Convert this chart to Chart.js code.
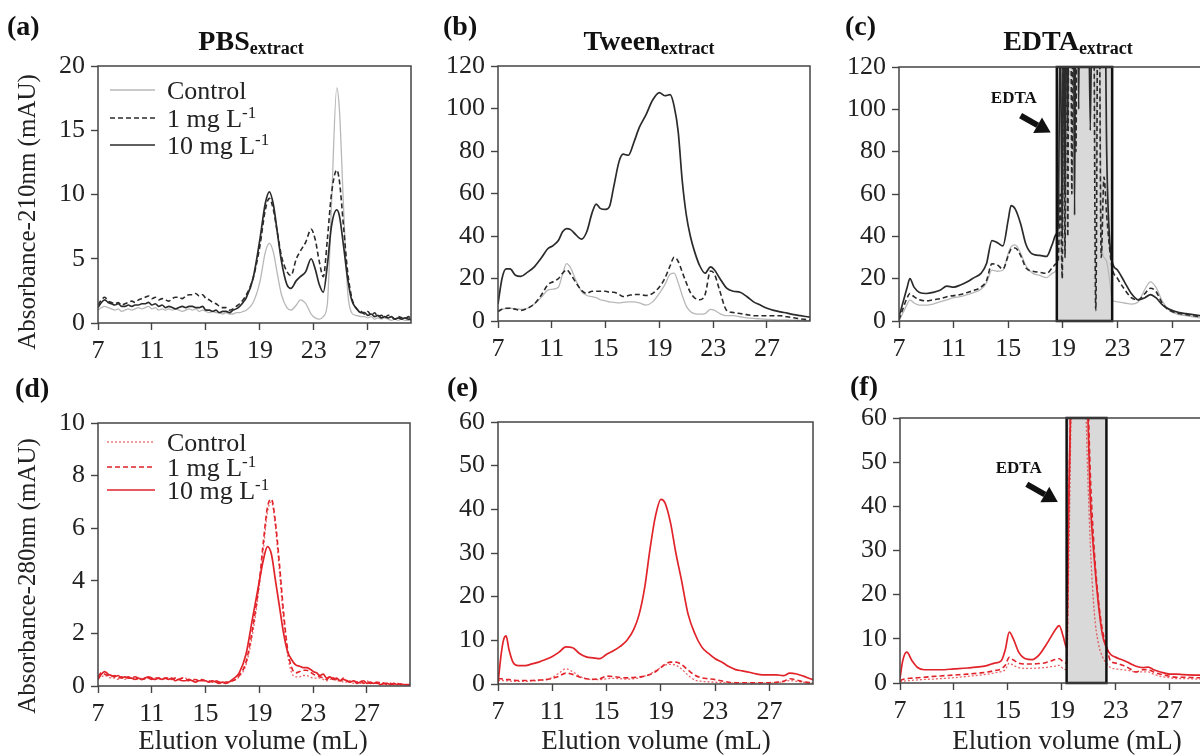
<!DOCTYPE html>
<html>
<head>
<meta charset="utf-8">
<script src="https://cdn.jsdelivr.net/npm/chart.js@4.4.1/dist/chart.umd.min.js"></script>
<style>
  html, body { margin: 0; padding: 0; background: #fff; overflow: hidden; }
  #wrap { position: relative; width: 1200px; height: 756px; overflow: hidden; }
  canvas { position: absolute; }
</style>
</head>
<body>
<div id="wrap">
  <canvas id="pa" width="420" height="370" style="left:0;top:0"></canvas>
  <canvas id="pb" width="420" height="370" style="left:400px;top:0"></canvas>
  <canvas id="pc" width="420" height="370" style="left:800px;top:0"></canvas>
  <canvas id="pd" width="420" height="386" style="left:0;top:370px"></canvas>
  <canvas id="pe" width="420" height="386" style="left:400px;top:370px"></canvas>
  <canvas id="pf" width="420" height="386" style="left:800px;top:370px"></canvas>
</div>
<script>
// tick labels
const xTicks = [7, 11, 15, 19, 23, 27];
const yTicks210a = [0, 5, 10, 15, 20];
const yTicks210 = [0, 20, 40, 60, 80, 100, 120];
const yTicks280d = [0, 2, 4, 6, 8, 10];
const yTicks280 = [0, 10, 20, 30, 40, 50, 60];

// (a) PBS extract, 210 nm
const aVol = [7, 7.25, 7.5, 7.75, 8, 8.25, 8.5, 8.75, 9, 9.25, 9.5, 9.75, 10, 10.25, 10.5, 10.75, 11, 11.25, 11.5, 11.75,
  12, 12.25, 12.5, 12.75, 13, 13.25, 13.5, 13.75, 14, 14.25, 14.5, 14.75, 15, 15.25, 15.5, 15.75, 16, 16.25, 16.5, 16.75,
  17, 17.25, 17.5, 17.75, 18,
  18.5, 19, 19.4, 19.7, 20, 20.3, 20.6, 21, 21.3, 21.7, 22, 22.4, 22.8, 23.1, 23.4, 23.7, 24, 24.3, 24.7, 24.9, 25.2, 25.5,
  25.8, 26.1, 26.5,
  26.75, 27, 27.25, 27.5, 27.75, 28, 28.25, 28.5, 28.75, 29, 29.25, 29.5, 29.75, 30, 30.2];
const aControl = [1.0, 1.2, 1.3, 1.2, 1.1, 1.0, 1.1, 0.9, 1.0, 1.1, 1.0, 1.1, 1.2, 1.1, 1.2, 1.3, 1.1, 1.2, 1.0, 1.1,
  1.0, 1.1, 1.0, 1.1, 1.0, 0.9, 1.0, 1.1, 1.0, 1.1, 0.9, 1.0, 0.9, 0.8, 0.9, 0.8, 0.8, 0.7, 0.8, 0.7,
  0.7, 0.8, 0.8, 0.9, 1.0,
  1.6, 3.2, 5.5, 6.2, 5.5, 3.8, 2.2, 1.2, 1.0, 1.4, 1.8, 1.5, 0.7, 0.4, 0.3, 0.5, 1.5, 9, 18.3, 16.5, 9, 2.5,
  0.8, 0.6, 0.5,
  0.5, 0.4, 0.5, 0.3, 0.4, 0.3, 0.4, 0.3, 0.2, 0.3, 0.2, 0.3, 0.2, 0.2, 0.2];
const a1mg = [1.4, 1.8, 2.0, 1.7, 1.6, 1.5, 1.6, 1.4, 1.5, 1.6, 1.7, 1.6, 1.8, 1.9, 2.0, 2.1, 1.9, 2.0, 1.8, 1.9,
  1.8, 1.7, 1.9, 2.0, 2.0, 1.9, 2.1, 2.2, 2.2, 2.3, 2.1, 2.2, 1.9, 1.8, 1.6, 1.5, 1.3, 1.2, 1.2, 1.0,
  1.1, 1.3, 1.5, 1.8, 2.2,
  3.5, 6.0, 8.8, 9.7, 8.8, 7.0, 5.2, 4.0, 3.7, 5.0, 5.6, 6.3, 7.3, 6.5, 4.8, 3.6, 6.5, 10, 11.9, 11, 7.5, 4,
  2, 1.2, 0.9,
  0.7, 0.9, 0.6, 0.8, 0.5, 0.6, 0.4, 0.6, 0.5, 0.3, 0.5, 0.4, 0.3, 0.5, 0.3];
const a10mg = [1.2, 1.6, 1.8, 1.6, 1.5, 1.4, 1.5, 1.3, 1.3, 1.4, 1.3, 1.4, 1.4, 1.5, 1.5, 1.6, 1.4, 1.5, 1.3, 1.4,
  1.2, 1.3, 1.2, 1.1, 1.2, 1.3, 1.2, 1.3, 1.3, 1.2, 1.2, 1.3, 1.0, 1.0, 0.9, 1.0, 0.8, 0.9, 0.9, 0.8,
  1.0, 1.1, 1.3, 1.6, 2.0,
  3.5, 6.5, 9.3, 10.2, 9.2, 7.0, 4.8, 3.0, 2.7, 3.3, 3.6, 4.0, 5.0, 4.2, 3.0, 2.4, 4.5, 7.5, 8.8, 8.3, 6.0, 3.5,
  1.8, 1.2, 0.8,
  0.8, 0.6, 0.7, 0.5, 0.6, 0.4, 0.5, 0.4, 0.5, 0.3, 0.4, 0.3, 0.4, 0.3, 0.3];

// (b) Tween extract, 210 nm
const bVol = [7, 7.3, 7.6, 7.9, 8.3, 8.7, 9.2, 9.7, 10.2, 10.7, 11.1, 11.5, 11.8, 12.1, 12.4, 12.8, 13.2, 13.6, 14, 14.3, 14.6,
  15, 15.3, 15.6, 16, 16.3, 16.7, 17.1, 17.5, 18, 18.5, 19, 19.4, 19.8, 20.1, 20.4, 20.7, 21, 21.3, 21.6, 22, 22.4, 22.8, 23.1,
  23.5, 24, 24.5, 25, 25.5, 26, 26.5, 27, 27.5, 28, 28.5, 29, 29.5, 30, 30.2];
const bControl = [5, 5.5, 5.8, 6, 5.8, 5.5, 6, 8, 11, 14.5, 15, 16, 22, 27, 25, 19, 14, 12, 11.5, 11, 10,
  9.5, 9, 8.8, 8.5, 8.8, 9, 9, 8.5, 7.5, 9, 13, 17, 22, 22.5, 18, 12, 7, 4.5, 3.5, 3.2, 3.5, 5.5, 5,
  3.5, 2.5, 2.5, 2, 1.5, 1.2, 1, 0.8, 0.6, 0.5, 0.5, 0.4, 0.3, 0.2, 0.2];
const b1mg = [4.5, 5.5, 6, 6, 5.5, 5, 6, 8, 12, 17, 18.5, 20, 22.5, 24, 22, 18, 14.5, 13, 14, 14, 14,
  14, 13.5, 13.5, 12.5, 11.5, 12, 12.5, 12.5, 12, 13, 16, 20, 26, 30, 28, 23, 18, 13.5, 11, 10, 12.5, 23.5, 22,
  14, 5, 4, 3.5, 3, 2.5, 2.5, 2.5, 2.5, 2.5, 2, 1.5, 1, 0.6, 0.5];
const b10mg = [8, 20, 24.5, 24.5, 21.5, 21, 23, 25.5, 29.5, 34, 35.5, 38, 42, 43.5, 43, 40.5, 38.5, 42, 51, 55, 53,
  52.5, 54, 63, 75, 78.5, 78, 84, 91, 97, 104, 107.5, 106, 106.5, 101, 89, 66, 50, 40, 33, 26, 22.5, 25.5, 24,
  20, 15.5, 14, 13.5, 11.5, 9, 7.5, 6, 5, 4.3, 3.7, 3, 2.5, 2, 1.8];

// (c) EDTA extract, 210 nm (values inside the EDTA band run off scale)
const cVol = [7, 7.3, 7.6, 7.8, 8.1, 8.5, 9, 9.5, 10, 10.5, 11, 11.5, 12, 12.5, 13, 13.4, 13.8, 14.2, 14.6, 15, 15.2, 15.5, 15.9,
  16.3, 16.8, 17.3, 17.8, 18.2, 18.5,
  18.65, 18.8, 18.95, 19.05, 19.15, 19.25, 19.35, 19.45, 19.55, 19.65, 19.75, 19.85, 19.95, 20.05, 20.15, 20.25, 20.4,
  20.6, 20.8, 21.0, 21.2, 21.4, 21.6, 21.8, 22.0, 22.2, 22.4,
  22.6, 23, 23.5, 24, 24.5, 25, 25.4, 25.8, 26.3, 26.8, 27.5, 28, 28.5, 29, 29.5, 30, 30.2];
const cControl = [0, 4, 8, 10, 8.5, 7.5, 7.5, 8, 9, 10, 11, 11.5, 12.5, 13.5, 15, 18, 24, 23.5, 24, 32, 35, 36, 32,
  26, 22.5, 21.5, 20.5, 22.5, 24,
  30, 64, 20, 120, 40, 200, 70, 200, 150, 200, 60, 200, 200, 120, 200, 200, 200,
  200, 120, 200, 200, 60, 200, 40, 30, 28, 20,
  10, 9, 8.5, 8, 9, 15, 18.5, 16, 9, 5, 3, 2.5, 2, 1.5, 1, 0.8, 0.8];
const c1mg = [0.5, 6, 11, 13, 11.5, 10, 9.5, 10, 10.5, 11.5, 12, 12.5, 13.5, 14.5, 16, 19, 27, 26.5, 24.5, 31, 34, 34.5, 31,
  25, 23.5, 23, 22.5, 25, 27,
  28, 60, 20, 200, 30, 200, 40, 200, 200, 60, 200, 200, 80, 200, 200, 120, 200,
  200, 200, 200, 200, 5, 200, 30, 68, 50, 35,
  25, 20, 15, 11, 10, 13, 15.5, 14, 8, 5, 3.5, 3, 2.5, 2, 1.5, 1, 1];
const c10mg = [2, 9, 16, 20, 16, 13.5, 13, 13.5, 14.5, 16.5, 16, 17, 18.5, 20.5, 22.5, 27, 38, 37, 35.5, 48, 54.5, 53, 46,
  36, 31.5, 31, 30.5, 36, 41,
  45, 140, 40, 200, 60, 200, 90, 200, 200, 120, 200, 50, 200, 200, 100, 200, 200,
  200, 200, 90, 200, 200, 200, 150, 200, 80, 40,
  28, 24, 18.5, 13, 10, 11, 12.5, 11, 7.5, 5.5, 4, 3.5, 3, 2.5, 2, 1.5, 1.4];

// (d) PBS extract, 280 nm
const dVol = [7, 7.25, 7.5, 7.75, 8, 8.25, 8.5, 8.75, 9, 9.25, 9.5, 9.75, 10, 10.25, 10.5, 10.75, 11, 11.25, 11.5, 11.75,
  12, 12.25, 12.5, 12.75, 13, 13.25, 13.5, 13.75, 14, 14.25, 14.5, 14.75, 15, 15.25, 15.5, 15.75, 16, 16.25, 16.5, 16.75,
  17, 17.25, 17.5,
  18, 18.5, 19, 19.3, 19.6, 19.9, 20.2, 20.5, 20.8, 21.1, 21.4, 21.7,
  22, 22.25, 22.5, 22.75, 23, 23.25, 23.5, 23.75, 24, 24.25, 24.5, 24.75, 25, 25.25, 25.5, 25.75, 26, 26.25, 26.5, 26.75,
  27, 27.25, 27.5, 27.75, 28, 28.25, 28.5, 28.75, 29, 29.25, 29.5, 29.75, 30, 30.2];
const dControl = [0.3, 0.35, 0.4, 0.35, 0.3, 0.3, 0.25, 0.3, 0.25, 0.3, 0.3, 0.25, 0.25, 0.3, 0.25, 0.3, 0.25, 0.3, 0.3, 0.25,
  0.3, 0.25, 0.3, 0.3, 0.25, 0.3, 0.3, 0.25, 0.2, 0.25, 0.2, 0.25, 0.2, 0.15, 0.2, 0.2, 0.15, 0.15, 0.1, 0.15,
  0.2, 0.25, 0.35,
  0.8, 2.0, 3.8, 5.2, 6.6, 7.0, 6.0, 4.3, 2.5, 1.2, 0.5, 0.35,
  0.35, 0.4, 0.4, 0.35, 0.3, 0.3, 0.3, 0.25, 0.2, 0.25, 0.25, 0.2, 0.2, 0.15, 0.15, 0.2, 0.1, 0.15, 0.1, 0.15,
  0.2, 0.1, 0.1, 0.15, 0.1, 0.05, 0.1, 0.05, 0.1, 0.05, 0.05, 0.05, 0.05, 0.05];
const d1mg = [0.35, 0.5, 0.45, 0.4, 0.35, 0.4, 0.3, 0.35, 0.3, 0.35, 0.3, 0.35, 0.3, 0.25, 0.3, 0.3, 0.25, 0.3, 0.3, 0.25,
  0.3, 0.3, 0.25, 0.3, 0.25, 0.3, 0.25, 0.2, 0.25, 0.25, 0.2, 0.25, 0.2, 0.2, 0.15, 0.2, 0.15, 0.1, 0.15, 0.15,
  0.2, 0.25, 0.4,
  0.9, 2.2, 4.0, 5.5, 6.8, 7.1, 6.2, 4.6, 2.8, 1.4, 0.7, 0.5,
  0.55, 0.6, 0.6, 0.55, 0.45, 0.4, 0.35, 0.3, 0.25, 0.35, 0.3, 0.25, 0.2, 0.3, 0.2, 0.15, 0.2, 0.15, 0.2, 0.1,
  0.15, 0.1, 0.15, 0.1, 0.15, 0.1, 0.05, 0.1, 0.05, 0.1, 0.05, 0.05, 0.05, 0.05];
const d10mg = [0.25, 0.45, 0.55, 0.45, 0.4, 0.35, 0.4, 0.3, 0.35, 0.3, 0.3, 0.25, 0.3, 0.25, 0.3, 0.35, 0.3, 0.25, 0.3, 0.25,
  0.3, 0.25, 0.3, 0.2, 0.25, 0.2, 0.2, 0.25, 0.2, 0.15, 0.2, 0.2, 0.2, 0.15, 0.2, 0.15, 0.1, 0.15, 0.1, 0.15,
  0.25, 0.35, 0.5,
  1.2, 2.6, 4.0, 4.8, 5.3, 5.0, 4.0, 3.0, 2.0, 1.3, 1.0, 0.8,
  0.75, 0.7, 0.7, 0.65, 0.55, 0.5, 0.4, 0.45, 0.3, 0.35, 0.25, 0.3, 0.2, 0.25, 0.2, 0.15, 0.2, 0.1, 0.15, 0.2,
  0.1, 0.15, 0.1, 0.15, 0.05, 0.1, 0.1, 0.05, 0.1, 0.05, 0.08, 0.05, 0.05, 0.05];

// (e) Tween extract, 280 nm
const eVol = [7, 7.2, 7.4, 7.6, 7.8, 8.1, 8.5, 9, 9.5, 10, 10.5, 11, 11.5, 12, 12.5, 13, 13.5, 14, 14.5, 15, 15.5, 16, 16.5, 17,
  17.4, 17.8, 18.2, 18.6, 19, 19.3, 19.7, 20.1, 20.5, 21, 21.5, 22, 22.5, 23, 23.5, 24, 24.5, 25, 25.5, 26, 26.5, 27, 27.5,
  28, 28.5, 29, 29.5, 30, 30.2];
const eControl = [0.8, 0.8, 0.8, 0.7, 0.7, 0.6, 0.6, 0.6, 0.7, 0.8, 1, 1.5, 2.5, 3.5, 2.8, 1.8, 1.2, 1, 1, 1.2, 1.3, 1.2, 1.1, 1.2,
  1.4, 1.8, 2.3, 3, 3.8, 4.3, 4.5, 4.3, 3.5, 2, 0.9, 0.6, 0.5, 0.4, 0.3, 0.3, 0.2, 0.2, 0.2, 0.2, 0.2, 0.2, 0.3,
  0.5, 0.8, 0.6, 0.4, 0.2, 0.2];
const e1mg = [1.2, 1.2, 1.1, 1, 1, 0.9, 0.8, 0.8, 0.8, 0.9, 1, 1.3, 1.8, 2.5, 2.2, 1.6, 1.2, 1.1, 1.2, 1.8, 1.7, 1.5, 1.4, 1.5,
  1.6, 1.8, 2.2, 2.8, 3.8, 4.5, 5, 5, 4.5, 3.2, 2, 1.4, 1.2, 1, 0.7, 0.4, 0.3, 0.3, 0.3, 0.3, 0.3, 0.3, 0.4,
  0.6, 1.2, 0.9, 0.5, 0.3, 0.2];
const e10mg = [0, 6, 10, 11, 8, 5, 4.2, 4.2, 4.6, 5, 5.6, 6.3, 7.3, 8.5, 8.3, 7, 6.2, 6, 5.8, 6.8, 7.6, 8.6, 10, 12.5,
  16, 22, 31, 38.5, 42.3, 41.5, 37, 30, 24, 16, 11.5, 8.5, 7, 5.8, 5, 4, 3.3, 3, 2.7, 2.3, 2.1, 2.1, 2.1,
  1.9, 2.5, 2.3, 1.8, 1.2, 1.0];

// (f) EDTA extract, 280 nm
const fVol = [7, 7.2, 7.5, 7.9, 8.3, 8.8, 9.5, 10, 11, 12, 13, 13.5, 14, 14.5, 14.8, 15.1, 15.4, 15.8, 16.3, 16.8, 17.3, 17.8,
  18.2, 18.5, 18.8, 19.1, 19.35, 19.5, 19.7, 20, 20.4, 20.8, 21.1, 21.4, 21.7, 22, 22.3, 22.6, 23, 23.5, 24, 24.5, 25,
  25.4, 25.8, 26.3, 27, 27.5, 28, 29, 30, 30.2];
const fControl = [0.3, 0.4, 0.5, 0.6, 0.7, 0.8, 0.9, 1, 1.2, 1.5, 1.8, 2, 2.3, 2.6, 3, 4.5, 4, 3.5, 3.3, 3.3, 3.4, 3.5,
  3.7, 3.8, 4, 3.2, 3, 25, 65, 100, 120, 60, 32, 16, 9, 6, 4.5, 3.5, 3.2, 3, 2.8, 2.5, 2.5,
  2.5, 2, 1.5, 1.2, 1, 1, 0.9, 0.8, 0.8];
const f1mg = [0.5, 0.8, 1, 1.1, 1.2, 1.3, 1.5, 1.6, 1.8, 2, 2.3, 2.5, 2.8, 3.2, 4, 5.8, 5.2, 4.5, 4.3, 4.3, 4.4, 4.6,
  5, 5.3, 5.5, 4.8, 4.5, 38, 70, 100, 120, 80, 48, 30, 19, 12, 8.5, 5, 4.5, 4, 3.3, 2.5, 3,
  3, 2.5, 2, 1.5, 1.3, 1.3, 1.2, 1.2, 1.2];
const f10mg = [1, 5, 7, 5, 3.5, 3, 3, 3, 3.2, 3.4, 3.7, 4, 4.5, 5, 7.5, 11.5, 10, 7, 5.5, 5.3, 6.3, 8.5,
  10.5, 12, 13, 10.5, 8, 40, 70, 100, 120, 75, 42, 28, 18, 11, 8, 6.5, 5.8, 5.2, 4.5, 3.8, 3.5,
  3.6, 3, 2.5, 2, 2, 1.9, 1.8, 1.8, 1.8];

const FONT = '"Liberation Serif", "Times New Roman", serif';

// line styles
const grayCtl = { borderColor: '#b8b8b8', borderWidth: 1.3 };
const darkDash = { borderColor: '#2b2b2b', borderWidth: 1.6, borderDash: [5, 3] };
const darkSolid = { borderColor: '#2b2b2b', borderWidth: 1.7 };
const redCtl = { borderColor: 'rgba(225,35,40,0.7)', borderWidth: 1.3, borderDash: [2, 2] };
const redDash = { borderColor: '#e1232a', borderWidth: 1.6, borderDash: [5, 3] };
const redSolid = { borderColor: '#e1232a', borderWidth: 1.7 };

const labelControl = [['Control']];
const label1 = [['1 mg L'], ['-1', 'sup']];
const label10 = [['10 mg L'], ['-1', 'sup']];

function pts(xs, ys) {
  return xs.map((x, i) => ({ x: x, y: ys[i] }));
}

function drawParts(ctx, parts, x, y, size, bold) {
  let cx = x;
  parts.forEach(([t, kind]) => {
    const s = kind ? Math.round(size * 0.66) : size;
    ctx.font = (bold ? 'bold ' : '') + s + 'px ' + FONT;
    const dy = kind === 'sup' ? -size * 0.36 : kind === 'sub' ? size * 0.14 : 0;
    ctx.fillText(t, cx, y + dy);
    cx += ctx.measureText(t).width;
  });
  return cx - x;
}

function partsWidth(ctx, parts, size, bold) {
  let w = 0;
  parts.forEach(([t, kind]) => {
    const s = kind ? Math.round(size * 0.66) : size;
    ctx.font = (bold ? 'bold ' : '') + s + 'px ' + FONT;
    w += ctx.measureText(t).width;
  });
  return w;
}

function arrow(ctx, x1, y1, x2, y2) {
  const ang = Math.atan2(y2 - y1, x2 - x1);
  const head = 15, hw = 9;
  const bx = x2 - head * Math.cos(ang), by = y2 - head * Math.sin(ang);
  ctx.lineWidth = 6;
  ctx.beginPath(); ctx.moveTo(x1, y1); ctx.lineTo(bx, by); ctx.stroke();
  ctx.beginPath();
  ctx.moveTo(x2, y2);
  ctx.lineTo(bx + hw * Math.sin(ang), by - hw * Math.cos(ang));
  ctx.lineTo(bx - hw * Math.sin(ang), by + hw * Math.cos(ang));
  ctx.closePath(); ctx.fill();
}

// frame, labels, legend and the EDTA band
function decorate(cfg) {
  return {
    id: 'decor',
    beforeDatasetsDraw(chart) {
      if (!cfg.edta) return;
      const { ctx, chartArea: a, scales: { x } } = chart;
      const l = x.getPixelForValue(cfg.edta.from), r = x.getPixelForValue(cfg.edta.to);
      ctx.save();
      ctx.fillStyle = '#d9d9d9';
      ctx.fillRect(l, a.top, r - l, a.bottom - a.top);
      ctx.restore();
    },
    afterDatasetsDraw(chart) {
      const { ctx, chartArea: a, scales: { x, y } } = chart;
      ctx.save();
      ctx.fillStyle = '#111';
      ctx.strokeStyle = '#111';
      if (cfg.edta) {
        const l = x.getPixelForValue(cfg.edta.from), r = x.getPixelForValue(cfg.edta.to);
        ctx.lineWidth = 2.5;
        ctx.strokeRect(l, a.top, r - l, a.bottom - a.top);
        const ar = cfg.edta.arrow;
        arrow(ctx, x.getPixelForValue(ar[0]), y.getPixelForValue(ar[1]), x.getPixelForValue(ar[2]), y.getPixelForValue(ar[3]));
        ctx.font = 'bold 17px ' + FONT;
        ctx.textAlign = 'center';
        ctx.textBaseline = 'middle';
        ctx.fillText('EDTA', x.getPixelForValue(cfg.edta.text[0]), y.getPixelForValue(cfg.edta.text[1]));
      }
      ctx.strokeStyle = '#444';
      ctx.lineWidth = 1.5;
      ctx.strokeRect(a.left, a.top, a.right - a.left, a.bottom - a.top);

      if (cfg.legend) {
        const lg = cfg.legend;
        lg.rows.forEach(row => {
          ctx.save();
          ctx.strokeStyle = row.style.borderColor;
          ctx.lineWidth = row.style.borderWidth;
          ctx.setLineDash(row.style.borderDash || []);
          ctx.beginPath(); ctx.moveTo(lg.x1, row.y); ctx.lineTo(lg.x2, row.y); ctx.stroke();
          ctx.restore();
          ctx.fillStyle = '#222';
          ctx.textAlign = 'left';
          ctx.textBaseline = 'alphabetic';
          drawParts(ctx, row.label, lg.tx, row.y + 9, 26, false);
        });
      }

      ctx.fillStyle = '#111';
      ctx.textBaseline = 'alphabetic';
      ctx.textAlign = 'left';
      ctx.font = 'bold 28px ' + FONT;
      ctx.fillText(cfg.letter[0], cfg.letter[1], cfg.letter[2]);

      if (cfg.title) {
        const w = partsWidth(ctx, cfg.title.parts, 28, true);
        drawParts(ctx, cfg.title.parts, cfg.title.cx - w / 2, cfg.title.y, 28, true);
      }
      ctx.fillStyle = '#222';
      if (cfg.ytitle) {
        ctx.save();
        ctx.translate(cfg.ytitle.x, cfg.ytitle.y);
        ctx.rotate(-Math.PI / 2);
        ctx.font = '25px ' + FONT;
        ctx.textAlign = 'center';
        ctx.textBaseline = 'middle';
        ctx.fillText(cfg.ytitle.text, 0, 0);
        ctx.restore();
      }
      if (cfg.xtitle) {
        ctx.font = '27px ' + FONT;
        ctx.textAlign = 'center';
        ctx.textBaseline = 'middle';
        ctx.fillText('Elution volume (mL)', cfg.xtitle[0], cfg.xtitle[1]);
      }
      ctx.restore();
    }
  };
}

function panel(id, o) {
  const tickGrid = { display: true, drawOnChartArea: false, drawTicks: true, tickLength: 7, tickColor: '#444', tickWidth: 1.4, color: '#444' };
  const tickFont = { family: FONT, size: 26 };
  return new Chart(document.getElementById(id), {
    type: 'line',
    data: {
      datasets: o.series.map(s => Object.assign({ data: pts(s[0], s[1]), pointRadius: 0, fill: false }, s[2]))
    },
    options: {
      responsive: false,
      animation: false,
      events: [],
      layout: { padding: { left: 0, top: o.top, right: o.right, bottom: 0 } },
      elements: { line: { cubicInterpolationMode: 'monotone' } },
      plugins: { legend: { display: false }, tooltip: { enabled: false } },
      scales: {
        x: {
          type: 'linear', min: 7, max: 30.2,
          afterBuildTicks: s => { s.ticks = xTicks.map(v => ({ value: v })); },
          afterFit: s => { s.height = o.xh; },
          grid: tickGrid,
          border: { display: false },
          ticks: { font: tickFont, color: '#222', padding: 6, maxRotation: 0, autoSkip: false }
        },
        y: {
          type: 'linear', min: 0, max: o.yTicks[o.yTicks.length - 1],
          afterBuildTicks: s => { s.ticks = o.yTicks.map(v => ({ value: v })); },
          afterFit: s => { s.width = o.yw; },
          grid: tickGrid,
          border: { display: false },
          ticks: { font: tickFont, color: '#222', padding: 6, autoSkip: false }
        }
      }
    },
    plugins: [decorate(o.decor)]
  });
}

panel('pa', {
  top: 66, right: 9, xh: 47, yw: 98, yTicks: yTicks210a,
  series: [[aVol, a10mg, darkSolid], [aVol, a1mg, darkDash], [aVol, aControl, grayCtl]],
  decor: {
    letter: ['(a)', 7, 35],
    title: { parts: [['PBS'], ['extract', 'sub']], cx: 251, y: 50 },
    ytitle: { text: 'Absorbance-210nm (mAU)', x: 28, y: 212 },
    legend: { x1: 110, x2: 155, tx: 167, rows: [
      { y: 90, style: grayCtl, label: labelControl },
      { y: 118, style: darkDash, label: label1 },
      { y: 145, style: darkSolid, label: label10 }] }
  }
});

panel('pb', {
  top: 66, right: 10, xh: 49, yw: 98, yTicks: yTicks210,
  series: [[bVol, b10mg, darkSolid], [bVol, b1mg, darkDash], [bVol, bControl, grayCtl]],
  decor: {
    letter: ['(b)', 43, 35],
    title: { parts: [['Tween'], ['extract', 'sub']], cx: 249, y: 50 }
  }
});

panel('pc', {
  top: 67, right: 4, xh: 49, yw: 99, yTicks: yTicks210,
  series: [[cVol, c10mg, darkSolid], [cVol, c1mg, darkDash], [cVol, cControl, grayCtl]],
  decor: {
    letter: ['(c)', 45, 35],
    title: { parts: [['EDTA'], ['extract', 'sub']], cx: 268, y: 50 },
    edta: { from: 18.55, to: 22.6, arrow: [15.9, 97, 18.1, 89], text: [15.4, 105] }
  }
});

panel('pd', {
  top: 53, right: 10, xh: 70, yw: 98, yTicks: yTicks280d,
  series: [[dVol, d10mg, redSolid], [dVol, d1mg, redDash], [dVol, dControl, redCtl]],
  decor: {
    letter: ['(d)', 15, 27],
    ytitle: { text: 'Absorbance-280nm (mAU)', x: 28, y: 206 },
    xtitle: [253, 372],
    legend: { x1: 107, x2: 155, tx: 167, rows: [
      { y: 72, style: redCtl, label: labelControl },
      { y: 97, style: redDash, label: label1 },
      { y: 120, style: redSolid, label: label10 }] }
  }
});

panel('pe', {
  top: 52, right: 7, xh: 72, yw: 98, yTicks: yTicks280,
  series: [[eVol, e10mg, redSolid], [eVol, e1mg, redDash], [eVol, eControl, redCtl]],
  decor: {
    letter: ['(e)', 47, 26],
    xtitle: [256, 372]
  }
});

panel('pf', {
  top: 48, right: 7, xh: 73, yw: 100, yTicks: yTicks280,
  series: [[fVol, f10mg, redSolid], [fVol, f1mg, redDash], [fVol, fControl, redCtl]],
  decor: {
    letter: ['(f)', 50, 25],
    xtitle: [267, 372],
    edta: { from: 19.35, to: 22.3, arrow: [16.4, 45, 18.7, 41], text: [15.8, 48.5] }
  }
});
</script>
</body>
</html>
